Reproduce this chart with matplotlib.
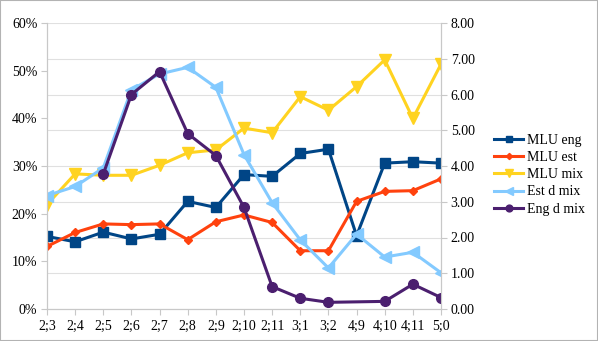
import numpy as np
import matplotlib.pyplot as plt
from matplotlib.ticker import FuncFormatter

plt.rcParams['font.family'] = 'serif'
plt.rcParams['font.serif'] = ['Liberation Serif', 'DejaVu Serif']

ages = ["2;3", "2;4", "2;5", "2;6", "2;7", "2;8", "2;9", "2;10", "2;11",
        "3;1", "3;2", "4;9", "4;10", "4;11", "5;0"]

# right axis (MLU)
mlu_eng = [2.03, 1.88, 2.15, 1.96, 2.09, 3.01, 2.84, 3.76, 3.71,
           4.35, 4.47, 2.05, 4.08, 4.12, 4.08]
mlu_est = [1.75, 2.14, 2.38, 2.36, 2.38, 1.94, 2.44, 2.63, 2.42,
           1.63, 1.63, 3.01, 3.29, 3.31, 3.64]
mlu_mix = [2.92, 3.78, 3.74, 3.74, 4.02, 4.37, 4.45, 5.06, 4.93,
           5.94, 5.56, 6.22, 6.97, 5.33, 6.85]

# left axis (share)
est_d_mix = [0.238, 0.257, 0.296, 0.460, 0.493, 0.507, 0.465, 0.324, 0.223,
             0.145, 0.086, 0.157, 0.109, 0.119, 0.076]
eng_d_mix = [None, None, 0.283, 0.450, 0.498, 0.368, 0.322, 0.213, 0.047,
             0.0225, 0.014, None, 0.016, 0.052, 0.024]

x = np.arange(len(ages))
grey = "#c8c8c8"

fig = plt.figure(figsize=(5.98, 3.41), dpi=100)
ax1 = fig.add_axes([47 / 598, 1 - 309 / 341, (441 - 47) / 598, (309 - 23) / 341])
ax2 = ax1.twinx()
ax1.set_zorder(ax2.get_zorder() + 1)
ax1.patch.set_visible(False)

lw = 2.2
h1, = ax2.plot(x, mlu_eng, color="#004586", marker="s", ms=7, lw=lw, label="MLU eng")
h2, = ax2.plot(x, mlu_est, color="#ff420e", marker="D", ms=4.5, lw=lw, label="MLU est")
h3, = ax2.plot(x, mlu_mix, color="#ffd320", marker="v", ms=8, lw=lw, label="MLU mix")

h4, = ax1.plot(x, est_d_mix, color="#83caff", marker="<", ms=8, lw=lw, label="Est d mix")
ex = [i for i, v in enumerate(eng_d_mix) if v is not None]
ey = [v for v in eng_d_mix if v is not None]
h5, = ax1.plot(ex, ey, color="#4b1f6f", marker="o", ms=7, lw=lw, label="Eng d mix")

ax1.set_xlim(0, 14)
ax1.set_ylim(0, 0.6)
ax2.set_ylim(0, 8)
ax1.set_yticks(np.arange(0, 0.61, 0.1))
ax2.set_yticks(np.arange(0, 8.1, 1))
ax1.yaxis.set_major_formatter(FuncFormatter(lambda v, p: f"{v * 100:.0f}%"))
ax2.yaxis.set_major_formatter(FuncFormatter(lambda v, p: f"{v:.2f}"))
ax1.set_xticks(x)
ax1.set_xticklabels(ages)

ax2.grid(axis="y", color="#e0e0e0", lw=0.8)
ax2.set_axisbelow(True)

for a in (ax1, ax2):
    for s in a.spines.values():
        s.set_color(grey)
    a.spines["top"].set_visible(False)
    a.tick_params(colors=grey, labelcolor="black", labelsize=10, length=4, pad=3)
ax1.tick_params(axis="x", pad=4)

fig.legend(handles=[h1, h2, h3, h4, h5], loc="upper left",
           bbox_to_anchor=(487 / 598, 1 - 127 / 341), frameon=False,
           fontsize=10, handlelength=2.1, labelspacing=0.3, borderpad=0,
           handletextpad=0.3, markerscale=0.7)

fig.patches.append(plt.Rectangle((0, 0), 1, 1, transform=fig.transFigure,
                                 fill=False, edgecolor="#b3b3b3", lw=1.5))

fig.savefig("out.png", dpi=100)
